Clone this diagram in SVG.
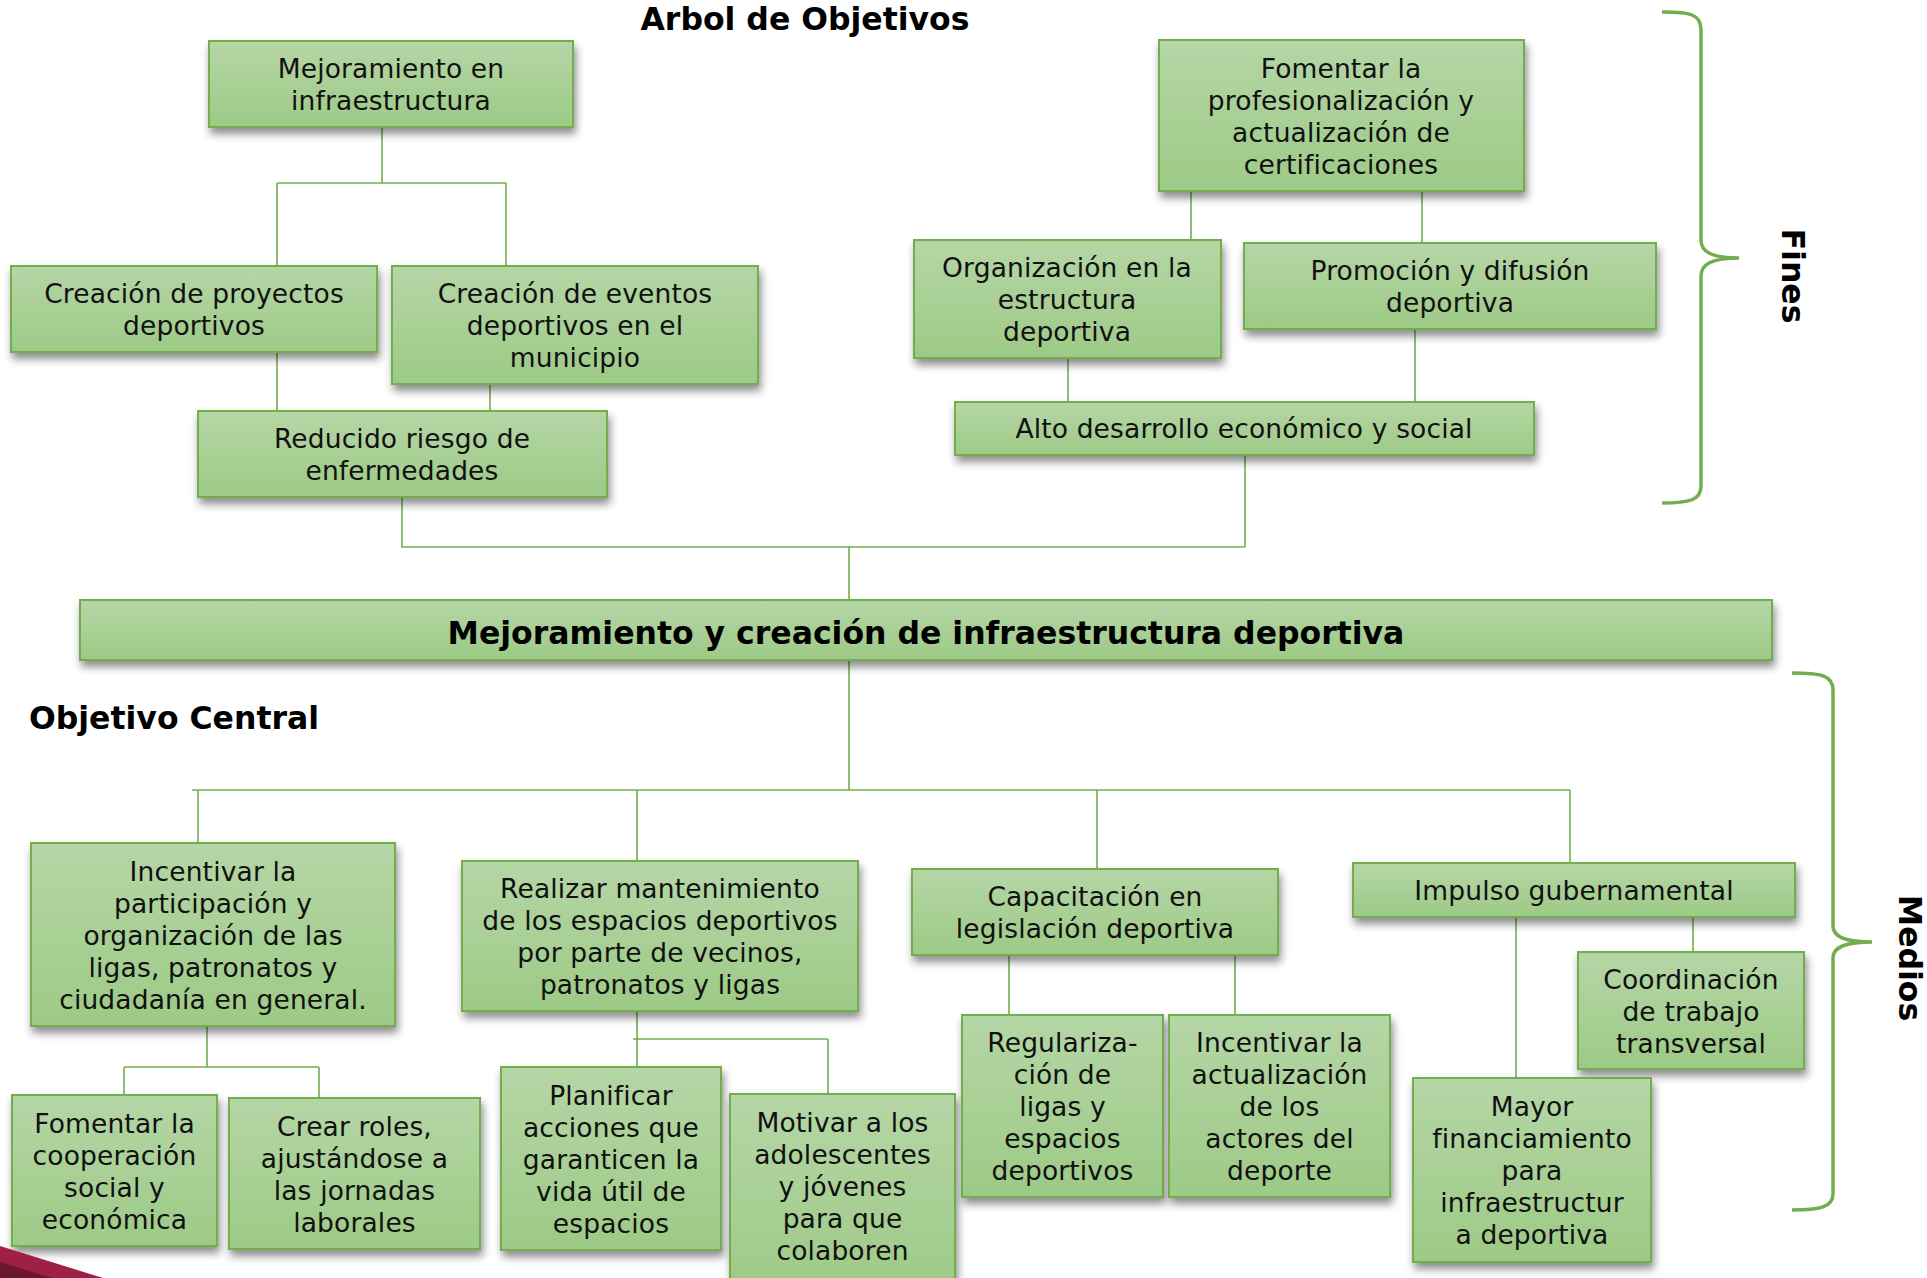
<svg xmlns="http://www.w3.org/2000/svg" width="1927" height="1278" viewBox="0 0 1927 1278">
<defs>
<linearGradient id="g" x1="0" y1="0" x2="0" y2="1">
<stop offset="0" stop-color="#b5d6a6"/>
<stop offset="1" stop-color="#9dca86"/>
</linearGradient>
<filter id="sh" x="-10%" y="-20%" width="125%" height="160%">
<feDropShadow dx="2" dy="6" stdDeviation="4" flood-color="#000" flood-opacity="0.45"/>
</filter>
<style>
.box{fill:url(#g);stroke:#72ae4e;stroke-width:2;filter:url(#sh)}
.t{font-family:"DejaVu Sans",Verdana,sans-serif;font-size:26.5px;letter-spacing:0.15px;fill:#111;text-anchor:middle}
.b{font-family:"DejaVu Sans",Verdana,sans-serif;font-weight:bold;font-size:31.5px;fill:#000}
.c{fill:none;stroke:#72ae4e;stroke-width:1.6}
.br{fill:none;stroke:#72ae4e;stroke-width:3.5}
</style>
</defs>
<rect width="1927" height="1278" fill="#fff"/>

<text class="b" x="805" y="30" text-anchor="middle">Arbol de Objetivos</text>
<text class="b" x="29" y="729">Objetivo Central</text>
<text class="b" transform="translate(1782,276) rotate(90)" text-anchor="middle">Fines</text>
<text class="b" transform="translate(1899,958) rotate(90)" text-anchor="middle" font-size="30">Medios</text>

<g id="connectors">
<path class="c" d="M382,127V183M277,183H506M277,183V266M506,183V266M277,352V411M490,384V411M402,497V547H1245M1245,455V547M849,547V600"/>
<path class="c" d="M1191,191V240M1422,191V243M1068,358V402M1415,329V402"/>
<path class="c" d="M849,660V790M192,790H1570M198,790V843M637,790V861M1097,790V869M1570,790V863"/>
<path class="c" d="M207,1026V1067M124,1067H319M124,1067V1095M319,1067V1098M637,1011V1067M633,1039H828M828,1039V1094"/>
<path class="c" d="M1009,955V1015M1235,955V1015M1516,917V1078M1693,917V952"/>
</g>

<g id="braces">
<path class="br" d="M1662,12C1690,12 1701,14 1701,30V240C1701,252 1712,258 1739,258C1712,258 1701,264 1701,276V486C1701,500 1690,503 1662,503"/>
<path class="br" d="M1792,673C1820,673 1833,675 1833,690V926C1833,937 1845,942 1872,942C1845,942 1833,947 1833,958V1194C1833,1207 1820,1210 1792,1210"/>
</g>

<g id="A"><rect class="box" x="209" y="41" width="364" height="86"/>
<text class="t"><tspan x="391" y="78">Mejoramiento en</tspan><tspan x="391" y="110">infraestructura</tspan></text></g>
<g id="B"><rect class="box" x="11" y="266" width="366" height="86"/>
<text class="t"><tspan x="194" y="303">Creación de proyectos</tspan><tspan x="194" y="335">deportivos</tspan></text></g>
<g id="C"><rect class="box" x="392" y="266" width="366" height="118"/>
<text class="t"><tspan x="575" y="303">Creación de eventos</tspan><tspan x="575" y="335">deportivos en el</tspan><tspan x="575" y="367">municipio</tspan></text></g>
<g id="D"><rect class="box" x="198" y="411" width="409" height="86"/>
<text class="t"><tspan x="402" y="448">Reducido riesgo de</tspan><tspan x="402" y="480">enfermedades</tspan></text></g>
<g id="E"><rect class="box" x="1159" y="40" width="365" height="151"/>
<text class="t"><tspan x="1341" y="77.5">Fomentar la</tspan><tspan x="1341" y="109.5">profesionalización y</tspan><tspan x="1341" y="141.5">actualización de</tspan><tspan x="1341" y="173.5">certificaciones</tspan></text></g>
<g id="F"><rect class="box" x="914" y="240" width="307" height="118"/>
<text class="t"><tspan x="1067" y="277">Organización en la</tspan><tspan x="1067" y="309">estructura</tspan><tspan x="1067" y="341">deportiva</tspan></text></g>
<g id="G"><rect class="box" x="1244" y="243" width="412" height="86"/>
<text class="t"><tspan x="1450" y="280">Promoción y difusión</tspan><tspan x="1450" y="312">deportiva</tspan></text></g>
<g id="H"><rect class="box" x="955" y="402" width="579" height="53"/>
<text class="t"><tspan x="1244" y="438">Alto desarrollo económico y social</tspan></text></g>

<g id="I"><rect class="box" x="80" y="600" width="1692" height="60"/>
<text class="b" x="926" y="644" text-anchor="middle">Mejoramiento y creación de infraestructura deportiva</text></g>

<g id="J"><rect class="box" x="31" y="843" width="364" height="183"/>
<text class="t"><tspan x="213" y="880.5">Incentivar la</tspan><tspan x="213" y="912.5">participación y</tspan><tspan x="213" y="944.5">organización de las</tspan><tspan x="213" y="976.5">ligas, patronatos y</tspan><tspan x="213" y="1008.5">ciudadanía en general.</tspan></text></g>
<g id="K"><rect class="box" x="462" y="861" width="396" height="150"/>
<text class="t"><tspan x="660" y="898">Realizar mantenimiento</tspan><tspan x="660" y="930">de los espacios deportivos</tspan><tspan x="660" y="962">por parte de vecinos,</tspan><tspan x="660" y="994">patronatos y ligas</tspan></text></g>
<g id="L"><rect class="box" x="912" y="869" width="366" height="86"/>
<text class="t"><tspan x="1095" y="906">Capacitación en</tspan><tspan x="1095" y="938">legislación deportiva</tspan></text></g>
<g id="M"><rect class="box" x="1353" y="863" width="442" height="54"/>
<text class="t"><tspan x="1574" y="900">Impulso gubernamental</tspan></text></g>

<g id="N1"><rect class="box" x="12" y="1095" width="205" height="151"/>
<text class="t"><tspan x="114.5" y="1132.5">Fomentar la</tspan><tspan x="114.5" y="1164.5">cooperación</tspan><tspan x="114.5" y="1196.5">social y</tspan><tspan x="114.5" y="1228.5">económica</tspan></text></g>
<g id="N2"><rect class="box" x="229" y="1098" width="251" height="151"/>
<text class="t"><tspan x="354.5" y="1135.5">Crear roles,</tspan><tspan x="354.5" y="1167.5">ajustándose a</tspan><tspan x="354.5" y="1199.5">las jornadas</tspan><tspan x="354.5" y="1231.5">laborales</tspan></text></g>
<g id="P1"><rect class="box" x="501" y="1067" width="220" height="183"/>
<text class="t"><tspan x="611" y="1104.5">Planificar</tspan><tspan x="611" y="1136.5">acciones que</tspan><tspan x="611" y="1168.5">garanticen la</tspan><tspan x="611" y="1200.5">vida útil de</tspan><tspan x="611" y="1232.5">espacios</tspan></text></g>
<g id="P2"><rect class="box" x="730" y="1094" width="225" height="200"/>
<text class="t"><tspan x="842.5" y="1132">Motivar a los</tspan><tspan x="842.5" y="1164">adolescentes</tspan><tspan x="842.5" y="1196">y jóvenes</tspan><tspan x="842.5" y="1228">para que</tspan><tspan x="842.5" y="1260">colaboren</tspan></text></g>
<g id="Q1"><rect class="box" x="962" y="1015" width="201" height="182"/>
<text class="t"><tspan x="1062.5" y="1052">Regulariza-</tspan><tspan x="1062.5" y="1084">ción de</tspan><tspan x="1062.5" y="1116">ligas y</tspan><tspan x="1062.5" y="1148">espacios</tspan><tspan x="1062.5" y="1180">deportivos</tspan></text></g>
<g id="Q2"><rect class="box" x="1169" y="1015" width="221" height="182"/>
<text class="t"><tspan x="1279.5" y="1052">Incentivar la</tspan><tspan x="1279.5" y="1084">actualización</tspan><tspan x="1279.5" y="1116">de los</tspan><tspan x="1279.5" y="1148">actores del</tspan><tspan x="1279.5" y="1180">deporte</tspan></text></g>
<g id="S"><rect class="box" x="1578" y="952" width="226" height="117"/>
<text class="t"><tspan x="1691" y="988.5">Coordinación</tspan><tspan x="1691" y="1020.5">de trabajo</tspan><tspan x="1691" y="1052.5">transversal</tspan></text></g>
<g id="R"><rect class="box" x="1413" y="1078" width="238" height="184"/>
<text class="t"><tspan x="1532" y="1116">Mayor</tspan><tspan x="1532" y="1148">financiamiento</tspan><tspan x="1532" y="1180">para</tspan><tspan x="1532" y="1212">infraestructur</tspan><tspan x="1532" y="1244">a deportiva</tspan></text></g>

<polygon points="0,1246 103,1278 0,1278" fill="#a01f46"/>
<polygon points="0,1262 52,1278 0,1278" fill="#6b1630"/>
</svg>
